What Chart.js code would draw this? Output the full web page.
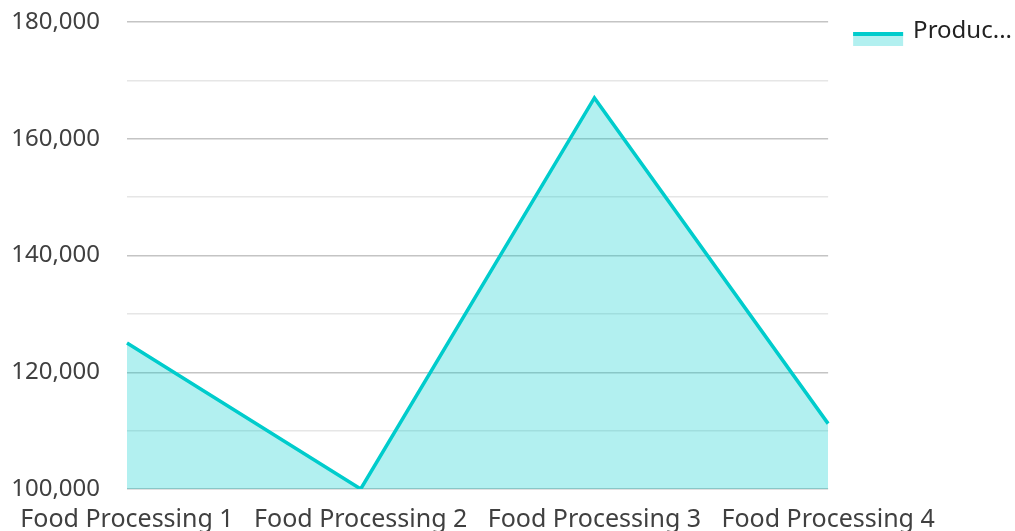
<!DOCTYPE html>
<html>
<head>
<meta charset="utf-8">
<script src="https://cdn.jsdelivr.net/npm/chart.js@4/dist/chart.umd.min.js"></script>
<style>
  html, body { margin: 0; padding: 0; background: #fff; }
  #wrap { width: 1015px; height: 531px; position: relative; }
</style>
</head>
<body>
<div id="wrap"><canvas id="c"></canvas></div>
<script>
// Categories and values
const categories = ['Food Processing 1', 'Food Processing 2', 'Food Processing 3', 'Food Processing 4'];
const production = [125000, 100000, 167000, 111200];
const seriesName = 'Production';

// Value axis range
const yMin = 100000;
const yMax = 180000;
const yStep = 10000;
const yLabelStep = 20000;

const lineColor = 'rgb(0, 204, 204)';
const areaColor = 'rgba(0, 204, 204, 0.3)';
const textColor = '#404040';
const fontFamily = '"Noto Sans", sans-serif';

// Legend swatch: light box with a thick line along its top edge
const SWATCH_W = 50, SWATCH_H = 14, SWATCH_DX = 6, SWATCH_DY = 13;
const legendSwatch = {
  id: 'legendSwatch',
  afterDraw(chart) {
    const legend = chart.legend;
    if (!legend || !legend.legendHitBoxes) return;
    const ctx = chart.ctx;
    legend.legendHitBoxes.forEach((hb) => {
      const x = hb.left + SWATCH_DX, y = hb.top + SWATCH_DY;
      ctx.save();
      ctx.fillStyle = areaColor;
      ctx.fillRect(x, y, SWATCH_W, SWATCH_H);
      ctx.fillStyle = lineColor;
      ctx.fillRect(x, y, SWATCH_W, 4);
      ctx.restore();
    });
  }
};

new Chart(document.getElementById('c'), {
  type: 'line',
  data: {
    labels: categories,
    datasets: [{
      label: seriesName,
      data: production,
      borderColor: lineColor,
      backgroundColor: areaColor,
      borderWidth: 3.5,
      fill: 'start',
      tension: 0,
      pointRadius: 0,
      pointHoverRadius: 0
    }]
  },
  options: {
    responsive: true,
    maintainAspectRatio: false,
    animation: false,
    layout: { padding: { top: 0, right: -7, bottom: 0, left: 0 } },
    plugins: {
      tooltip: { enabled: false },
      legend: {
        position: 'right',
        align: 'start',
        labels: {
          color: '#222',
          font: { family: fontFamily, size: 24 },
          boxWidth: 54,
          boxHeight: 14,
          padding: 19,
          generateLabels(chart) {
            return chart.data.datasets.map((ds, i) => ({
              text: ds.label.length > 6 ? ds.label.slice(0, 6) + '...' : ds.label,
              fillStyle: 'rgba(0,0,0,0)',
              strokeStyle: 'rgba(0,0,0,0)',
              fontColor: '#222',
              lineWidth: 0,
              datasetIndex: i,
              hidden: false
            }));
          }
        }
      }
    },
    scales: {
      x: {
        offset: false,
        afterFit(scale) { scale.height = 42; },
        grid: { display: false, drawTicks: false },
        border: { display: false },
        ticks: {
          color: textColor,
          font: { family: fontFamily, size: 25 },
          padding: 16,
          maxRotation: 0,
          autoSkip: false
        }
      },
      y: {
        min: yMin,
        max: yMax,
        afterFit(scale) {
          scale.width = 127;
          scale.paddingTop = 22;
        },
        grid: {
          drawTicks: true,
          tickLength: 27,
          tickColor: 'rgba(0,0,0,0)',
          lineWidth: 1.5,
          color(ctx) {
            const v = ctx.tick && ctx.tick.value;
            return (v - yMin) % yLabelStep === 0 ? '#c4c4c4' : '#e6e6e6';
          }
        },
        border: { display: false },
        ticks: {
          stepSize: yStep,
          color: textColor,
          padding: 0,
          font: { family: fontFamily, size: 24 },
          callback(v) {
            return (v - yMin) % yLabelStep === 0 ? v.toLocaleString('en-US') : '';
          }
        }
      }
    }
  },
  plugins: [legendSwatch]
});
</script>
</body>
</html>
